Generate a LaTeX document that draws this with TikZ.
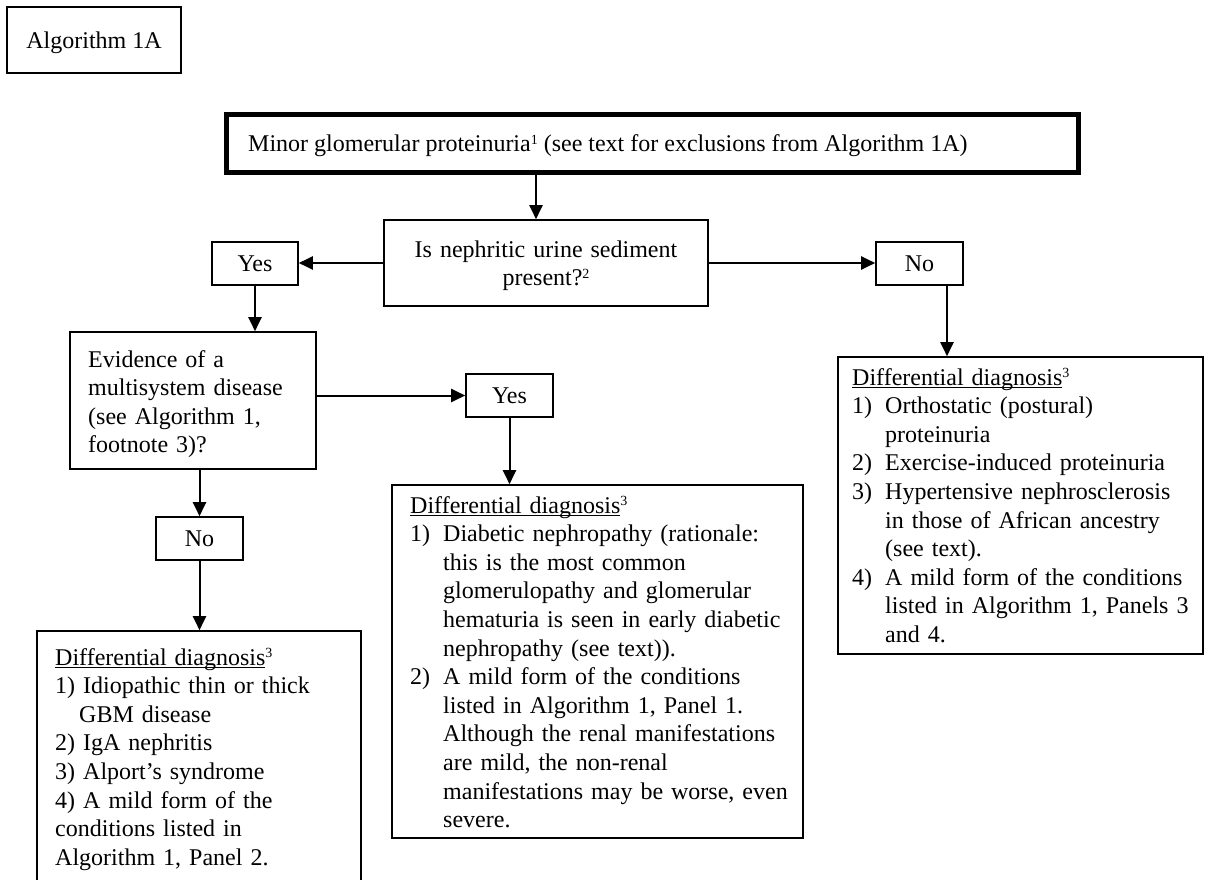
\documentclass[tikz,border=0pt]{standalone}
\usepackage{fontspec}
\setmainfont{Liberation Serif}
\usetikzlibrary{arrows.meta}
\newcommand\itm[2]{\makebox[33pt][l]{#1}#2}
\newcommand\cnt{\hspace*{33pt}}
\newcommand\sups[1]{\raisebox{7.5pt}{\fontsize{14}{14}\selectfont #1}}
\newcommand\ulin[1]{\setbox0\hbox{#1}\rlap{\rule[-3pt]{\wd0}{1.2pt}}\box0}
\newcommand\ddhead{\ulin{Differential diagnosis}\sups{3}}
\begin{document}
\begin{tikzpicture}[x=1pt,y=-1pt,
  box/.style={draw, line width=1.6pt, inner sep=0pt},
  txt/.style={inner sep=0pt, anchor=base west, align=left, font=\fontsize{24}{28.6}\selectfont},
  arr/.style={line width=2pt, -{Triangle[length=14pt,width=13pt]}},
  lbl/.style={box, font=\fontsize{24}{28.6}\selectfont, text depth=0pt}
]
\clip (0,0) rectangle (1205,880);
% boxes
\node[lbl, minimum width=174pt, minimum height=66pt] (alg) at (94,40) {Algorithm 1A};
\node[box, line width=5pt, minimum width=852pt, minimum height=58pt] (main) at (652,144) {};
\node[box, minimum width=324pt, minimum height=86pt] (dec) at (546,263) {};
\node[lbl, minimum width=86pt, minimum height=43pt] (yes1) at (255,263.5) {Yes};
\node[lbl, minimum width=87pt, minimum height=43pt] (no1) at (919.5,263.5) {No};
\node[box, minimum width=246pt, minimum height=137pt] (evid) at (193,400.5) {};
\node[lbl, minimum width=87pt, minimum height=43pt] (yes2) at (509.5,395.5) {Yes};
\node[lbl, minimum width=87pt, minimum height=43pt] (no2) at (199.5,538.5) {No};
\node[box, minimum width=411pt, minimum height=353pt] (mid) at (597.5,661.5) {};
\node[box, minimum width=365pt, minimum height=297pt] (right) at (1020.5,505.5) {};
\node[box, minimum width=324pt, minimum height=279pt] (left) at (199,770.5) {};
% texts
\node[txt] (maintxt) at (248,152) {Minor glomerular proteinuria\sups{1} (see text for exclusions from Algorithm 1A)};
\node[txt, anchor=base, align=center, text width=320pt] (dectxt) at (546,257) {Is nephritic urine sediment\\ present?\sups{2}};
\node[txt, text width=225pt] (evidtxt) at (88,367) {Evidence of a\\ multisystem disease\\ (see Algorithm 1,\\ footnote 3)?};
\node[txt, text width=385pt] (midtxt) at (410,513) {\ddhead\\
\itm{1)}{Diabetic nephropathy (rationale:}\\
\cnt this is the most common\\
\cnt glomerulopathy and glomerular\\
\cnt hematuria is seen in early diabetic\\
\cnt nephropathy (see text)).\\
\itm{2)}{A mild form of the conditions}\\
\cnt listed in Algorithm 1, Panel 1.\\
\cnt Although the renal manifestations\\
\cnt are mild, the non-renal\\
\cnt manifestations may be worse, even\\
\cnt severe.};
\node[txt, text width=345pt] (righttxt) at (852,385) {\ddhead\\
\itm{1)}{Orthostatic (postural)}\\
\cnt proteinuria\\
\itm{2)}{Exercise-induced proteinuria}\\
\itm{3)}{Hypertensive nephrosclerosis}\\
\cnt in those of African ancestry\\
\cnt (see text).\\
\itm{4)}{A mild form of the conditions}\\
\cnt listed in Algorithm 1, Panels 3\\
\cnt and 4.};
\node[txt, text width=300pt] (lefttxt) at (55,665) {\ddhead\\
1) Idiopathic thin or thick\\
\hspace*{24pt}GBM disease\\
2) IgA nephritis\\
3) Alport’s syndrome\\
4) A mild form of the\\
conditions listed in\\
Algorithm 1, Panel 2.};
% connectors
\coordinate (a1) at (536,0);
\coordinate (a3) at (947,0);
\draw[arr] (main.south -| a1) -- (dec.north -| a1);
\draw[arr] (dec.west) -- (yes1.east |- dec.west);
\draw[arr] (dec.east) -- (no1.west |- dec.east);
\draw[arr] (yes1.south) -- (evid.north -| yes1.south);
\draw[arr] (evid.east |- yes2.west) -- (yes2.west);
\draw[arr] (yes2.south) -- (mid.north -| yes2.south);
\draw[arr] (evid.south -| no2.north) -- (no2.north);
\draw[arr] (no2.south) -- (left.north -| no2.south);
\draw[arr] (no1.south -| a3) -- (right.north -| a3);
\end{tikzpicture}
\end{document}
